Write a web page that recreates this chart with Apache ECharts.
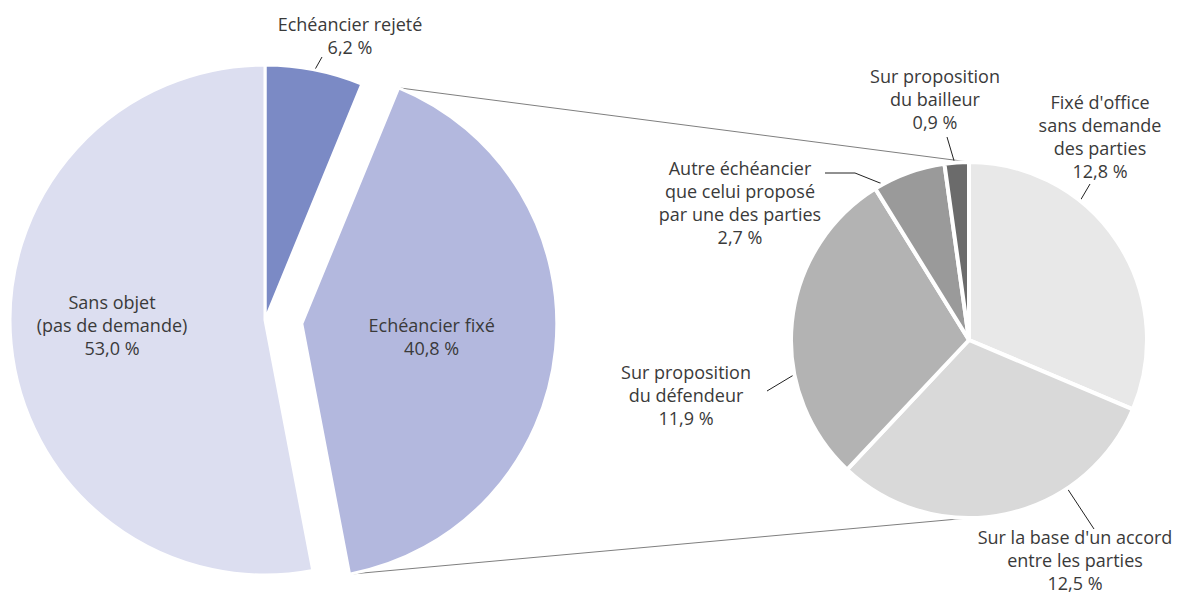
<!DOCTYPE html>
<html>
<head>
<meta charset="utf-8">
<script src="https://cdn.jsdelivr.net/npm/echarts@6/dist/echarts.min.js"></script>
<style>
  html, body { margin: 0; padding: 0; background: #fff; }
  #chart { width: 1182px; height: 596px; }
</style>
</head>
<body>
<div id="chart"></div>
<script>
// left pie: main breakdown
const mainNames = ['Echéancier rejeté', 'Echéancier fixé', 'Sans objet\n(pas de demande)']
const mainValues = [6.2, 40.8, 53.0]
const mainColors = ['#7b8ac5', '#b3b8de', '#dcdef0']

// right pie: detail of "Echéancier fixé"
const detailNames = [
  "Fixé d'office\nsans demande\ndes parties",
  "Sur la base d'un accord\nentre les parties",
  'Sur proposition\ndu défendeur',
  'Autre échéancier\nque celui proposé\npar une des parties',
  'Sur proposition\ndu bailleur'
]
const detailValues = [12.8, 12.5, 11.9, 2.7, 0.9]
const detailColors = ['#e8e8e8', '#d9d9d9', '#b3b3b3', '#9a9a9a', '#6b6b6b']

const fmt = v => v.toFixed(1).replace('.', ',') + ' %'

// geometry
const L = { cx: 265, cy: 320, r: 255, off: 37 }
const R = { cx: 969, cy: 340, r: 178 }

// label anchors (centre of text block) and leader line points
const mainLabels = [
  { x: 350, y: 35, line: [[313, 73], [322, 57], [322, 57]] },
  { x: 405, y: 316 },
  { x: 112, y: 325 }
]
const detailLabels = [
  { x: 1100, y: 136, line: [[1080, 201], [1090, 184], [1090, 184]] },
  { x: 1075, y: 560, line: [[1067, 488], [1094, 529], [1094, 529]] },
  { x: 686, y: 395, line: [[797, 373], [767, 391], [767, 391]] },
  { x: 740, y: 202, line: [[885, 185], [855, 173], [825, 173]] },
  { x: 935, y: 99, line: [[955, 164], [947, 137], [947, 137]] }
]

const labelStyle = {
  fontFamily: 'Open Sans', fontSize: 18, lineHeight: 23, color: '#3a3a3a',
  align: 'center', overflow: 'none', width: 280
}

const chart = echarts.init(document.getElementById('chart'), null, { renderer: 'svg' })

// connector lines from exploded slice to top/bottom of detail pie
const total = mainValues.reduce((a, b) => a + b, 0)
const f0 = mainValues[0] / total
const f1 = (mainValues[0] + mainValues[1]) / total
const tMid = Math.PI * (f0 + f1)
const pt = f => {
  const t = 2 * Math.PI * f
  return [
    L.cx + L.r * Math.sin(t) + L.off * Math.sin(tMid),
    L.cy - L.r * Math.cos(t) - L.off * Math.cos(tMid)
  ]
}
const pTop = pt(f0)
const pBot = pt(f1)

chart.setOption({
  animation: false,
  graphic: [
    { type: 'line', z: -1, shape: { x1: pTop[0], y1: pTop[1], x2: R.cx, y2: R.cy - R.r }, style: { stroke: '#7f7f7f', lineWidth: 1 } },
    { type: 'line', z: -1, shape: { x1: pBot[0], y1: pBot[1], x2: R.cx, y2: R.cy + R.r }, style: { stroke: '#7f7f7f', lineWidth: 1 } }
  ],
  series: [
    {
      type: 'pie',
      center: [L.cx, L.cy],
      radius: [0, L.r],
      startAngle: 90,
      clockwise: true,
      selectedMode: 'single',
      selectedOffset: L.off,
      silent: true,
      itemStyle: { borderColor: '#fff', borderWidth: 3 },
      label: Object.assign({ formatter: p => p.name + '\n' + fmt(p.value) }, labelStyle),
      labelLine: { lineStyle: { color: '#222', width: 1 }, length: 10, length2: 0 },
      labelLayout: p => {
        const l = mainLabels[p.dataIndex]
        const o = { x: l.x, y: l.y, align: 'center', verticalAlign: 'middle' }
        if (l.line) o.labelLinePoints = l.line
        return o
      },
      data: mainValues.map((v, i) => ({
        name: mainNames[i],
        value: v,
        selected: i === 1,
        itemStyle: { color: mainColors[i] },
        select: { itemStyle: { color: mainColors[i] } },
        label: { position: i === 0 ? 'outside' : 'inside' },
        labelLine: { show: i === 0 }
      }))
    },
    {
      type: 'pie',
      center: [R.cx, R.cy],
      radius: [0, R.r],
      startAngle: 90,
      clockwise: true,
      silent: true,
      itemStyle: { borderColor: '#fff', borderWidth: 4 },
      label: Object.assign({ position: 'outside', formatter: p => p.name + '\n' + fmt(p.value) }, labelStyle),
      labelLine: { show: true, lineStyle: { color: '#222', width: 1 }, length: 10, length2: 0 },
      labelLayout: p => {
        const l = detailLabels[p.dataIndex]
        return { x: l.x, y: l.y, align: 'center', verticalAlign: 'middle', labelLinePoints: l.line }
      },
      data: detailValues.map((v, i) => ({
        name: detailNames[i],
        value: v,
        itemStyle: { color: detailColors[i] }
      }))
    }
  ]
})
</script>
</body>
</html>
